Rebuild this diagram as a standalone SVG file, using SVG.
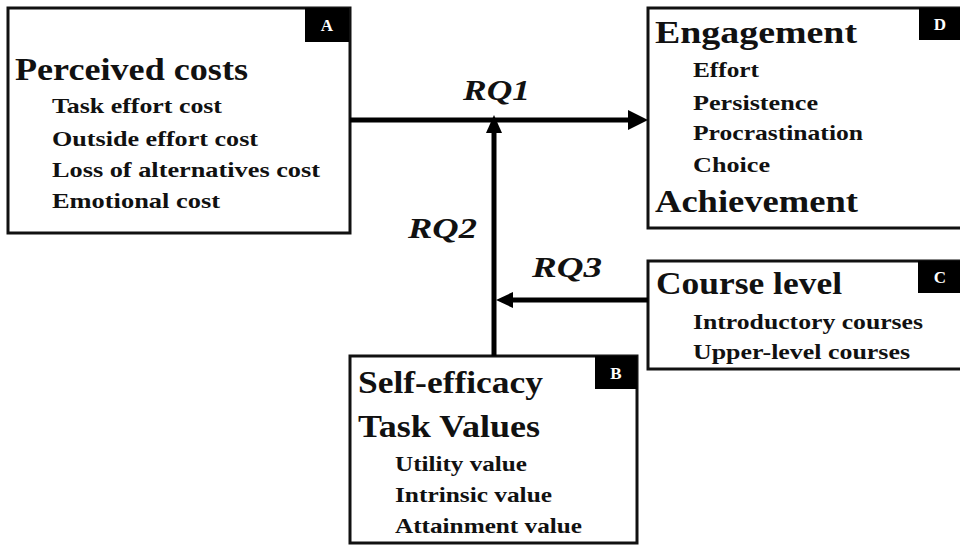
<svg xmlns="http://www.w3.org/2000/svg" width="960" height="545" viewBox="0 0 960 545">
  <style>
    .box { fill: #ffffff; stroke: #111111; stroke-width: 3; }
    .tag { fill: #000000; }
    .tagtxt { font-family: "Liberation Serif", "Times New Roman", serif; font-weight: bold; font-size: 17px; fill: #ffffff; text-anchor: middle; }
    .head { font-family: "Liberation Serif", "Times New Roman", serif; font-weight: bold; font-size: 31px; fill: #111111; }
    .item { font-family: "Liberation Serif", "Times New Roman", serif; font-weight: bold; font-size: 22px; fill: #111111; }
    .rq { font-family: "Liberation Serif", "Times New Roman", serif; font-weight: bold; font-style: italic; font-size: 29px; fill: #111111; }
    .link { stroke: #000000; stroke-width: 5; fill: none; }
    .head-arrow { fill: #000000; }
  </style>

  <rect width="960" height="545" fill="#ffffff"/>

  <!-- A: perceived costs -->
  <g id="node-a">
    <rect class="box" x="8" y="8" width="342" height="225"/>
    <rect class="tag" x="305" y="8" width="44" height="34"/>
    <text class="tagtxt" x="327" y="31">A</text>
    <text class="head" x="15" y="80" textLength="233" lengthAdjust="spacingAndGlyphs">Perceived costs</text>
    <text class="item" x="52" y="113" textLength="170" lengthAdjust="spacingAndGlyphs">Task effort cost</text>
    <text class="item" x="52" y="146" textLength="206" lengthAdjust="spacingAndGlyphs">Outside effort cost</text>
    <text class="item" x="52" y="177" textLength="268" lengthAdjust="spacingAndGlyphs">Loss of  alternatives cost</text>
    <text class="item" x="52" y="208" textLength="168" lengthAdjust="spacingAndGlyphs">Emotional cost</text>
  </g>

  <!-- D: engagement and achievement -->
  <g id="node-d">
    <rect class="box" x="648" y="8" width="320" height="220"/>
    <rect class="tag" x="919" y="8" width="45" height="32"/>
    <text class="tagtxt" x="940" y="30">D</text>
    <text class="head" x="655" y="43" textLength="202" lengthAdjust="spacingAndGlyphs">Engagement</text>
    <text class="item" x="693" y="77" textLength="66" lengthAdjust="spacingAndGlyphs">Effort</text>
    <text class="item" x="693" y="110" textLength="125" lengthAdjust="spacingAndGlyphs">Persistence</text>
    <text class="item" x="693" y="140" textLength="170" lengthAdjust="spacingAndGlyphs">Procrastination</text>
    <text class="item" x="693" y="172" textLength="77" lengthAdjust="spacingAndGlyphs">Choice</text>
    <text class="head" x="655" y="212" textLength="203" lengthAdjust="spacingAndGlyphs">Achievement</text>
  </g>

  <!-- C: course level -->
  <g id="node-c">
    <rect class="box" x="648" y="261" width="320" height="108"/>
    <rect class="tag" x="918" y="261" width="46" height="32"/>
    <text class="tagtxt" x="940" y="283">C</text>
    <text class="head" x="656" y="294" textLength="186" lengthAdjust="spacingAndGlyphs">Course level</text>
    <text class="item" x="693" y="329" textLength="230" lengthAdjust="spacingAndGlyphs">Introductory courses</text>
    <text class="item" x="693" y="359" textLength="217" lengthAdjust="spacingAndGlyphs">Upper-level courses</text>
  </g>

  <!-- B: self-efficacy and task values -->
  <g id="node-b">
    <rect class="box" x="350" y="356" width="287" height="187"/>
    <rect class="tag" x="595" y="356" width="42" height="33"/>
    <text class="tagtxt" x="616" y="379">B</text>
    <text class="head" x="358" y="393" textLength="185" lengthAdjust="spacingAndGlyphs">Self-efficacy</text>
    <text class="head" x="358" y="437" textLength="182" lengthAdjust="spacingAndGlyphs">Task Values</text>
    <text class="item" x="395" y="471" textLength="132" lengthAdjust="spacingAndGlyphs">Utility value</text>
    <text class="item" x="395" y="502" textLength="157" lengthAdjust="spacingAndGlyphs">Intrinsic value</text>
    <text class="item" x="395" y="533" textLength="187" lengthAdjust="spacingAndGlyphs">Attainment value</text>
  </g>

  <!-- research-question paths -->
  <g id="connectors">
    <line class="link" x1="350" y1="120" x2="630" y2="120"/>
    <polygon class="head-arrow" points="648,120 628,110 628,130"/>
    <line class="link" x1="494" y1="356" x2="494" y2="130"/>
    <polygon class="head-arrow" points="494,115 486,133 502,133"/>
    <line class="link" x1="648" y1="300" x2="510" y2="300"/>
    <polygon class="head-arrow" points="496,300 513,292 513,308"/>
    <text class="rq" x="463" y="100" textLength="67" lengthAdjust="spacingAndGlyphs">RQ1</text>
    <text class="rq" x="408" y="238" textLength="69" lengthAdjust="spacingAndGlyphs">RQ2</text>
    <text class="rq" x="532" y="277" textLength="70" lengthAdjust="spacingAndGlyphs">RQ3</text>
  </g>
</svg>
